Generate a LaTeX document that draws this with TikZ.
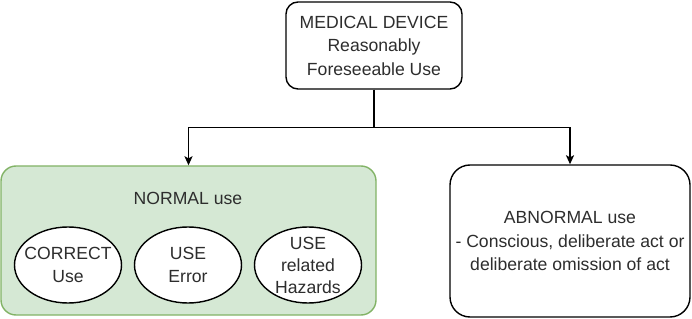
\documentclass[tikz,border=0pt]{standalone}
\usepackage{fontspec}
\setmainfont{Liberation Sans}
\usetikzlibrary{arrows.meta,shapes.geometric}
\definecolor{txt}{RGB}{45,45,45}
\definecolor{gfill}{HTML}{D5E8D4}
\definecolor{gline}{HTML}{82B366}
\begin{document}
\begin{tikzpicture}[x=1pt,y=1pt,
  every node/.style={text=txt,font=\fontsize{17.6}{23.5}\selectfont,align=center,inner sep=0pt},
  box/.style={draw=black,line width=1.4pt,rectangle},
  oval/.style={draw=black,fill=white,line width=1.4pt,ellipse,minimum width=107pt,minimum height=76pt},
  conn/.style={line width=1.4pt,-{Stealth[length=9pt,width=8pt,inset=2pt]}}]
\useasboundingbox (0,0) rectangle (692,318);
\node[box,rounded corners=12pt,minimum width=176pt,minimum height=87pt] (top) at (374,272.5) {MEDICAL DEVICE\\Reasonably\\Foreseeable Use};
\node[box,draw=gline,fill=gfill,rounded corners=15pt,minimum width=375pt,minimum height=149pt] (normal) at (188.5,77.5) {};
\node (ntext) at (188,120) {NORMAL use};
\node[oval] (correct) at (68,53) {};
\node (correctt) at (correct) {CORRECT\\Use};
\node[oval] (error) at (188,53) {};
\node (errort) at (error) {USE\\Error};
\node[oval] (haz) at (308,53) {};
\node[font=\fontsize{17.6}{22}\selectfont] (hazt) at (haz) {USE\\related\\Hazards};
\node[box,rounded corners=20pt,minimum width=240pt,minimum height=152pt] (abn) at (570,77) {ABNORMAL use\\- Conscious, deliberate act or\\deliberate omission of act};
\draw[line width=1.4pt] (top.south) -- ++(0,-38) coordinate (j);
\draw[conn] (j) -| (normal.north);
\draw[conn] (j) -| (abn.north);
\end{tikzpicture}
\end{document}
